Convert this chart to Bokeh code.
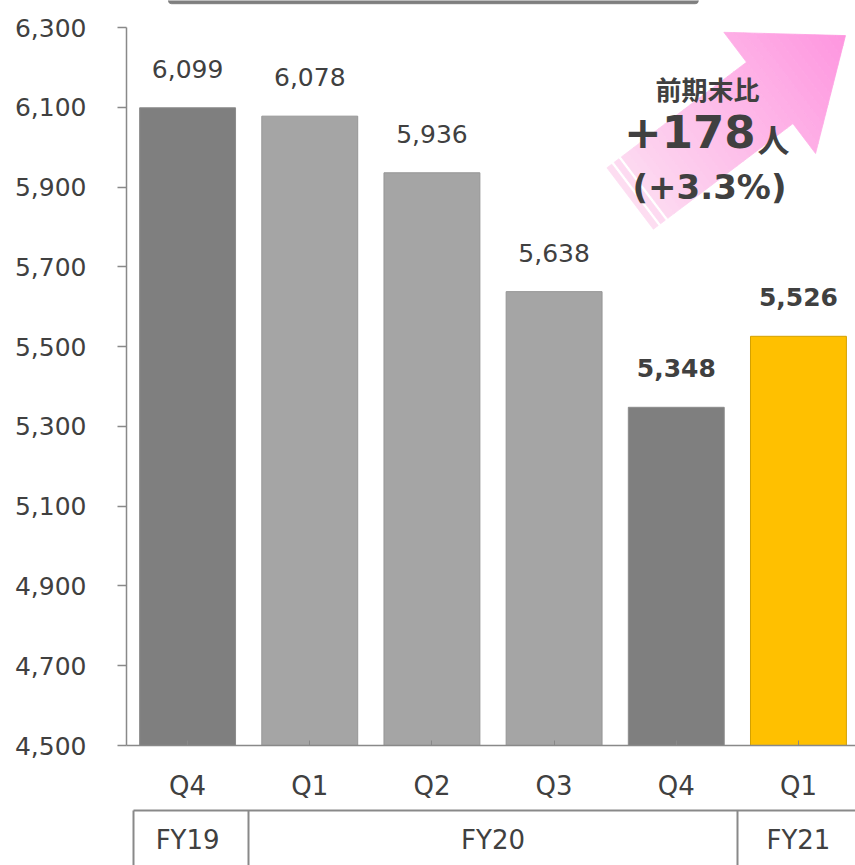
import numpy as np
from bokeh.plotting import figure
from bokeh.models import (Range1d, FixedTicker, LinearAxis, NumeralTickFormatter,
                          ColumnDataSource, Label, CustomJSTickFormatter)
from bokeh.core.properties import value
from bokeh.embed import file_html
from bokeh.resources import INLINE

# ---------------- data ----------------
quarters = ["Q4", "Q1", "Q2", "Q3", "Q4", "Q1"]
fiscal_years = ["FY19", "FY20", "FY20", "FY20", "FY20", "FY21"]
employees = [6099, 6078, 5936, 5638, 5348, 5526]
y_ticks = [4500, 4700, 4900, 5100, 5300, 5500, 5700, 5900, 6100, 6300]
change_title = "前期末比"
change_abs = "+178"
change_unit = "人"
change_pct = "(+3.3%)"

# ---------------- styles ----------------
bar_colors = ["#7f7f7f", "#a5a5a5", "#a5a5a5", "#a5a5a5", "#7f7f7f", "#ffc000"]
bar_edges = ["#8c8c8c", "#969696", "#969696", "#969696", "#8c8c8c", "#d4a000"]
bold_label = [False, False, False, False, True, True]
TXT = "#404040"
AX = "#898989"

W, H = 855, 865
LEFT, TOP, BOTTOM, RIGHT = 126, 0, 120, 0
FW, FH = W - LEFT - RIGHT, H - TOP - BOTTOM
X_END = 5.967
Y0, Y1 = y_ticks[0], y_ticks[-1]
Y_END = 6368          # a little head room above the last tick

p = figure(width=W, height=H, output_backend="svg", toolbar_location=None,
           x_range=Range1d(0, X_END), y_range=Range1d(Y0, Y_END),
           min_border_left=LEFT, min_border_right=RIGHT,
           min_border_top=TOP, min_border_bottom=BOTTOM)
p.outline_line_color = None
p.grid.visible = False
p.background_fill_color = "white"
p.border_fill_color = "white"

# clipped bottom edge of the title box above the chart
p.quad(left=0.344, right=4.68, bottom=6360, top=6420, fill_color="#7f7f7f",
       line_color="#7f7f7f", border_radius=3)

xs = [i + 0.5 for i in range(len(quarters))]
src = ColumnDataSource(dict(x=xs, top=employees, color=bar_colors, edge=bar_edges))
p.vbar(x="x", top="top", bottom=Y0, width=0.785, fill_color="color",
       line_color="edge", line_width=1, source=src)

# value labels
for bold in (False, True):
    idx = [i for i, b in enumerate(bold_label) if b == bold]
    s = ColumnDataSource(dict(x=[xs[i] for i in idx], y=[employees[i] for i in idx],
                              t=[f"{employees[i]:,}" for i in idx]))
    p.text(x="x", y="y", text="t", source=s, y_offset=-39, text_align="center",
           text_baseline="middle", text_font=value("DejaVu Sans"),
           text_font_size="25px", text_color=TXT,
           text_font_style="bold" if bold else "normal")

# y axis
ya = p.yaxis[0]
ya.ticker = FixedTicker(ticks=y_ticks)
ya.bounds = (Y0, Y1)
ya.formatter = NumeralTickFormatter(format="0,0")
ya.major_tick_out = 9
ya.major_tick_in = 0
ya.minor_tick_line_color = None
ya.major_label_standoff = 31
ya.major_label_text_font = "DejaVu Sans"
ya.major_label_text_font_size = "25px"
ya.major_label_text_color = TXT
ya.axis_line_color = AX
ya.axis_line_width = 1.5
ya.major_tick_line_color = AX
ya.major_tick_line_width = 1.5

# x axis (quarters)
xa = p.xaxis[0]
xa.ticker = FixedTicker(ticks=xs)
xa.formatter = CustomJSTickFormatter(args=dict(labels=quarters),
                                     code="return labels[Math.floor(tick)];")
xa.major_tick_in = 5
xa.major_tick_out = 0
xa.major_tick_line_color = AX
xa.minor_tick_line_color = None
xa.major_label_standoff = 25
xa.major_label_text_font = "DejaVu Sans"
xa.major_label_text_font_size = "26px"
xa.major_label_text_color = TXT
xa.axis_line_color = AX
xa.axis_line_width = 1.5
xa.axis_label = " "
xa.axis_label_text_font_size = "1px"
xa.axis_label_standoff = 3

# second axis (fiscal years table)
groups = []
for f in fiscal_years:
    if f not in groups:
        groups.append(f)
centers = [float(np.mean([xs[i] for i, f in enumerate(fiscal_years) if f == g])) for g in groups]
bounds = [0.06] + [float(i) for i in range(1, len(fiscal_years)) if fiscal_years[i] != fiscal_years[i - 1]]
ga = LinearAxis(ticker=FixedTicker(ticks=centers, minor_ticks=bounds),
                formatter=CustomJSTickFormatter(args=dict(c=centers, n=groups),
                    code="const i = c.indexOf(tick); return i >= 0 ? n[i] : '';"))
ga.bounds = (0.06, X_END)
ga.major_tick_line_color = None
ga.major_tick_in = 0
ga.major_tick_out = 0
ga.minor_tick_in = 0
ga.minor_tick_out = 62
ga.minor_tick_line_color = AX
ga.minor_tick_line_width = 2
ga.axis_line_color = AX
ga.axis_line_width = 2
ga.major_label_standoff = -48
ga.major_label_text_font = "DejaVu Sans"
ga.major_label_text_font_size = "26px"
ga.major_label_text_color = TXT
p.add_layout(ga, "below")

# ---------------- arrow (decoration, gradient bands) ----------------
px_x = FW / X_END            # pixels per x unit
px_y = FH / (Y_END - Y0)     # pixels per y unit
tip = (5.885, 6280.0)        # arrow tip in data units
d = np.array([0.797, -0.603]); d = d / np.linalg.norm(d)   # screen direction
n = np.array([-d[1], d[0]])
L_total, L_head_start = 270.0, 175.0
head_hw, shaft_hw = 76.0, 38.5
c0 = np.array([253, 222, 242]); c1 = np.array([255, 150, 224])

def pt(u, v):
    sx = (u - L_total) * d[0] + v * n[0]
    sy = (u - L_total) * d[1] + v * n[1]
    return tip[0] + sx / px_x, tip[1] - sy / px_y

def hw(u, head):
    return head_hw * (L_total - u) / (L_total - L_head_start) if head else shaft_hw

segs = [(0, 6, False), (9, 15, False)]
body = np.linspace(18, L_head_start, 21)
segs += [(body[i], body[i + 1], False) for i in range(len(body) - 1)]
hb = np.linspace(L_head_start, L_total, 13)
segs += [(hb[i], hb[i + 1], True) for i in range(len(hb) - 1)]
pxs, pys, pcs = [], [], []
for u0, u1, head in segs:
    a0, a1 = hw(u0, head), hw(u1, head)
    pts = [pt(u0, -a0), pt(u1, -a1), pt(u1, a1), pt(u0, a0)]
    pxs.append([q[0] for q in pts]); pys.append([q[1] for q in pts])
    t = (u0 + u1) / 2 / L_total
    c = (c0 + (c1 - c0) * t).astype(int)
    pcs.append("#%02x%02x%02x" % tuple(c))
p.patches(pxs, pys, fill_color=pcs, line_color=pcs, line_width=0.8)

def ann(x, y, text, font, size, align="center"):
    p.add_layout(Label(x=x, y=y, text=text, text_font=font, text_font_size=size,
                       text_font_style="bold", text_color=TXT, text_align=align,
                       text_baseline="middle"))

ann(4.756, 6147, change_title, "Noto Sans CJK JP", "26px")
ann(5.149, 6039, change_abs, "DejaVu Sans", "45px", align="right")
ann(5.165, 6024, change_unit, "Noto Sans CJK JP", "32px", align="left")
ann(4.772, 5901, change_pct, "DejaVu Sans", "34px")

open("out.html", "w").write(file_html(p, INLINE))
